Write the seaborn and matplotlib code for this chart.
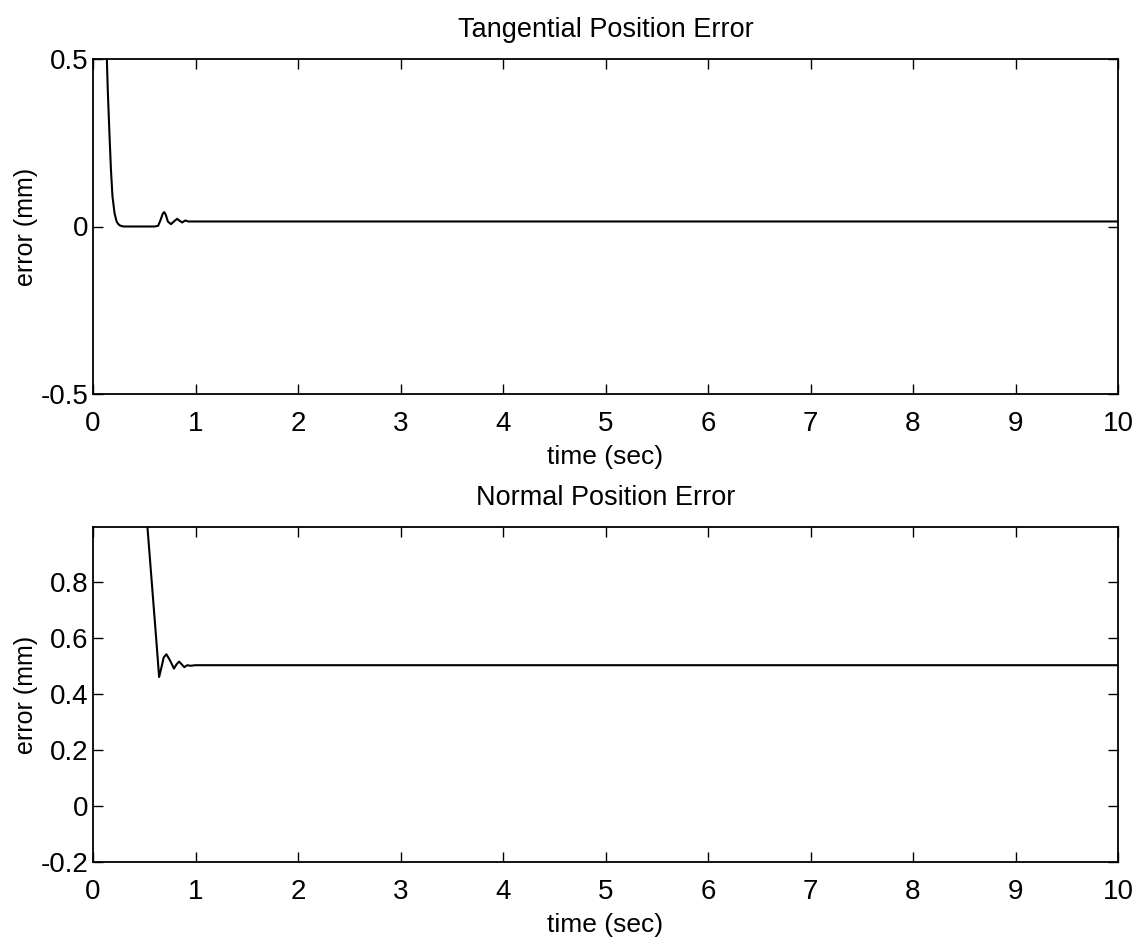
import matplotlib
matplotlib.use("Agg")
import matplotlib.pyplot as plt
import seaborn as sns
import numpy as np

# ---- data ----
tang_time = [0.0, 0.10, 0.13, 0.145, 0.16, 0.175, 0.19, 0.21, 0.23, 0.25, 0.27, 0.30, 0.35,
             0.60, 0.635, 0.66, 0.68, 0.695, 0.71, 0.73, 0.76, 0.79, 0.82, 0.85, 0.87,
             0.90, 0.93, 1.0, 10.0]
tang_err = [3.0, 1.0, 0.55, 0.40, 0.28, 0.17, 0.09, 0.04, 0.015, 0.006, 0.002, 0.0, 0.0,
            0.0, 0.002, 0.02, 0.038, 0.043, 0.035, 0.015, 0.007, 0.015, 0.023, 0.016, 0.012,
            0.018, 0.015, 0.015, 0.015]

norm_time = [0.0, 0.50, 0.53, 0.56, 0.59, 0.62, 0.645, 0.665, 0.69, 0.716, 0.75, 0.79,
             0.815, 0.84, 0.865, 0.89, 0.92, 0.95, 1.0, 10.0]
norm_err = [1.5, 1.1, 1.0, 0.86, 0.72, 0.58, 0.46, 0.49, 0.53, 0.541, 0.52, 0.49,
            0.505, 0.515, 0.505, 0.495, 0.502, 0.50, 0.502, 0.502]

x_ticks = [0, 1, 2, 3, 4, 5, 6, 7, 8, 9, 10]
tang_yticks = [-0.5, 0, 0.5]
tang_ylabels = ["-0.5", "0", "0.5"]
norm_yticks = [-0.2, 0, 0.2, 0.4, 0.6, 0.8]
norm_ylabels = ["-0.2", "0", "0.2", "0.4", "0.6", "0.8"]

titles = ["Tangential Position Error", "Normal Position Error"]

# ---- style ----
sns.set_style("ticks")
plt.rcParams["font.family"] = ["Liberation Sans", "DejaVu Sans"]
plt.rcParams["axes.unicode_minus"] = False
plt.rcParams["text.color"] = "black"
plt.rcParams["axes.labelcolor"] = "black"

fig = plt.figure(figsize=(11.44, 9.41), dpi=100)
W, H = 1144, 941
left, right = 93, 1118
ax1 = fig.add_axes([left / W, (H - 394) / H, (right - left) / W, 335 / H])
ax2 = fig.add_axes([left / W, (H - 862) / H, (right - left) / W, 335 / H])

sns.lineplot(x=tang_time, y=tang_err, ax=ax1, color="black", linewidth=1.5, sort=False)
sns.lineplot(x=norm_time, y=norm_err, ax=ax2, color="black", linewidth=1.5, sort=False)

for ax, title, yt, yl, ylim in [
    (ax1, titles[0], tang_yticks, tang_ylabels, (-0.5, 0.5)),
    (ax2, titles[1], norm_yticks, norm_ylabels, (-0.2, 0.995)),
]:
    ax.set_xlim(0, 10)
    ax.set_ylim(*ylim)
    ax.set_xticks(x_ticks)
    ax.set_xticklabels([str(v) for v in x_ticks])
    ax.set_yticks(yt)
    ax.set_yticklabels(yl)
    ax.tick_params(direction="in", length=7, width=1.0, top=True, right=True,
                   labelsize=20, colors="black")
    ax.tick_params(axis="x", pad=12)
    ax.tick_params(axis="y", pad=3)
    for s in ax.spines.values():
        s.set_visible(True)
        s.set_linewidth(1.3)
        s.set_color("black")
    ax.set_xlabel("time (sec)", fontsize=19, labelpad=6, color="black")
    ax.set_ylabel("error (mm)", fontsize=18, labelpad=2, color="black")
    ax.set_title(title, fontsize=19.5, pad=16, color="black")

fig.savefig("out.png", dpi=100, facecolor="white")
